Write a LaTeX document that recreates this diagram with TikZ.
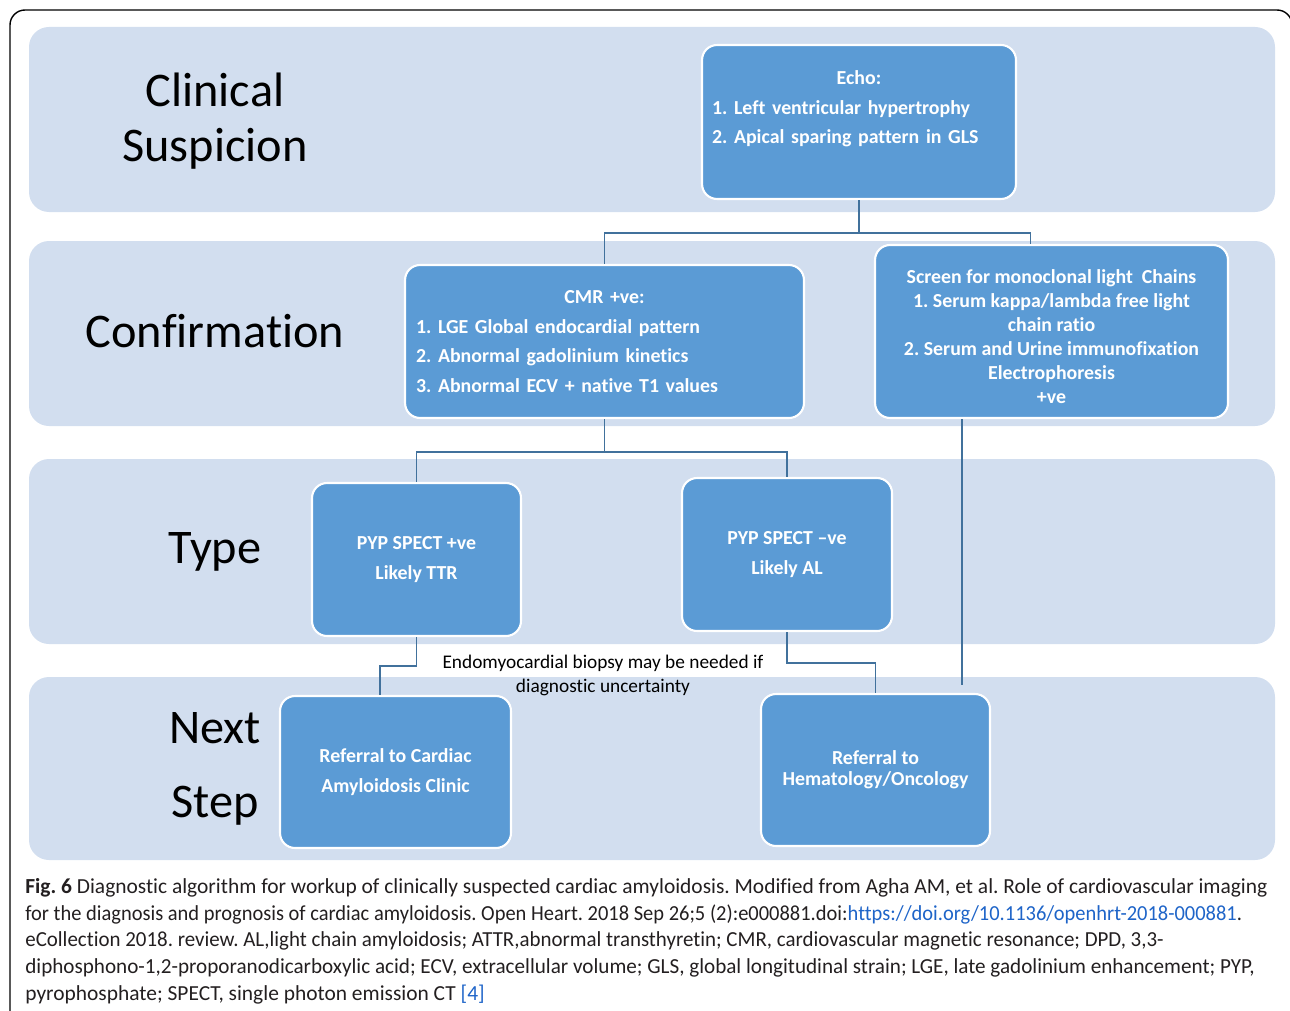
\documentclass[tikz,border=0pt]{standalone}
\usepackage{fontspec}
\usepackage{graphicx}
\setmainfont{Carlito}[Ligatures=NoCommon]
\frenchspacing
\usetikzlibrary{positioning}
\definecolor{bandfill}{HTML}{D2DEEF}
\definecolor{boxfill}{HTML}{5B9BD5}
\definecolor{wirecol}{HTML}{41719C}
\definecolor{capblue}{HTML}{1E64C8}
\definecolor{captext}{HTML}{231F20}
\tikzset{
  stage/.style={font=\fontsize{27.5}{31}\selectfont, align=center},
  flowbox/.style={draw=white, line width=1.2pt, fill=boxfill, rounded corners=0.3cm,
    text=white, font=\bfseries\fontsize{11.3}{17}\selectfont, align=center},
  wire/.style={draw=wirecol, line width=1.1pt},
}
\begin{document}
\begin{tikzpicture}[x=0.02cm,y=-0.02cm]
  \useasboundingbox (0,0) rectangle (1290,1010);
  \draw[line width=0.8pt, rounded corners=0.3cm] (10,1040) -- (10,10) -- (1292,10) -- (1292,1040);
  \foreach \t/\b in {27/212, 241/426, 459/644, 677/860}
    \fill[bandfill, rounded corners=0.4cm] (29,\t) rectangle (1275,\b);

  \node[stage] (suspicion) at (215,121) {Clinical\\Suspicion};
  \node[stage] (confirm) at (215,331) {Confirmation};
  \node[stage] (type) at (215,552) {Type};
  \node[stage, font=\fontsize{27.5}{42}\selectfont] (nextstep) at (215,769) {Next\\Step};

  \node[flowbox, minimum width=6.28cm, minimum height=3.08cm, text width=5.88cm, align=left, inner xsep=0.2cm]
    (echo) at (859,122) {\makebox[\hsize]{Echo:}\\1. Left ventricular hypertrophy\\2. Apical sparing pattern in GLS\\\mbox{}};
  \node[flowbox, minimum width=7.98cm, minimum height=3.06cm, text width=7.54cm, align=left, inner xsep=0.22cm]
    (cmr) at (604.5,341.5) {\makebox[\hsize]{CMR +ve:}\\1. LGE Global endocardial pattern\\2. Abnormal gadolinium kinetics\\3. Abnormal ECV + native T1 values};
  \node[flowbox, minimum width=7.06cm, minimum height=3.46cm, font=\bfseries\fontsize{11.3}{13.6}\selectfont]
    (screen) at (1051.5,331.5) {\rule{0pt}{14pt}Screen for monoclonal light\ \ Chains\\1. Serum kappa/lambda free light\\chain ratio\\2. Serum and Urine immunofixation\\Electrophoresis\\+ve};
  \node[flowbox, minimum width=4.18cm, minimum height=3.06cm] (ttr) at (416.5,559.5) {PYP SPECT +ve\\Likely TTR};
  \node[flowbox, minimum width=4.2cm, minimum height=3.06cm] (al) at (787,554.5) {PYP SPECT –ve\\Likely AL};
  \node[flowbox, minimum width=4.62cm, minimum height=3.04cm] (cardiac) at (395.5,772) {Referral to Cardiac\\Amyloidosis Clinic};
  \node[flowbox, minimum width=4.58cm, minimum height=3.04cm, font=\bfseries\fontsize{11.3}{11.9}\selectfont]
    (hem) at (875.5,770) {Referral to\\Hematology/Oncology};

  \node[font=\fontsize{11}{14}\selectfont, align=center] (biopsy) at (603,675.5) {Endomyocardial biopsy may be needed if\\diagnostic uncertainty};

  \draw[wire] (echo.south) -- ++(0,33) -| (cmr.north);
  \draw[wire] (echo.south) ++(0,33) -| ([xshift=-0.42cm]screen.north);
  \draw[wire] (cmr.south) -- ++(0,33) -| (ttr.north);
  \draw[wire] (cmr.south) ++(0,33) -| (al.north);
  \draw[wire] (ttr.south) -- ++(0,29) -| ([xshift=-0.31cm]cardiac.north);
  \draw[wire] (al.south) -- ++(0,31) -| (hem.north);
  \draw[wire, shorten >=0.16cm] ([xshift=-1.79cm]screen.south) -- ([xshift=-1.79cm]screen.south |- hem.north);

  \node[anchor=north west, align=left, inner sep=0, text=captext, font=\fontsize{12.2}{15.2}\selectfont] (caption) at (25,878)
    {\textbf{Fig. 6} Diagnostic algorithm for workup of clinically suspected cardiac amyloidosis. Modified from Agha AM, et al. Role of cardiovascular imaging\\
     \scalebox{0.955}[1]{for the diagnosis and prognosis of cardiac amyloidosis. Open Heart. 2018 Sep 26;5 (2):e000881.doi:{\color{capblue}https://doi.org/10.1136/openhrt-2018-000881}.}\\
     \scalebox{0.976}[1]{eCollection 2018. review. AL,light chain amyloidosis; ATTR,abnormal transthyretin; CMR, cardiovascular magnetic resonance; DPD, 3,3-}\\
     \scalebox{0.986}[1]{diphosphono-1,2-proporanodicarboxylic acid; ECV, extracellular volume; GLS, global longitudinal strain; LGE, late gadolinium enhancement; PYP,}\\
     pyrophosphate; SPECT, single photon emission CT {\color{capblue}[4]}};
\end{tikzpicture}
\end{document}
